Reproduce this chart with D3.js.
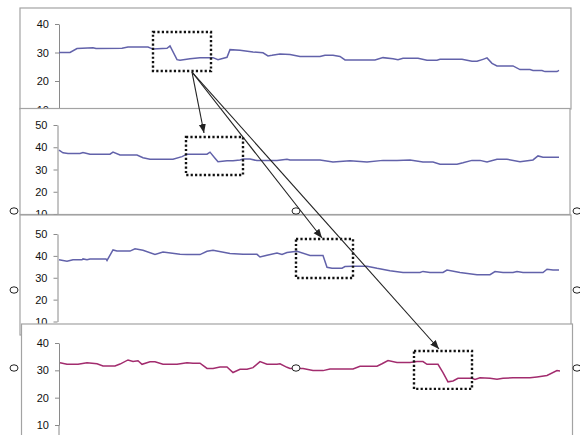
<!DOCTYPE html>
<html lang="en">
<head>
    <meta charset="UTF-8">
    <script src="https://d3js.org/d3.v7.min.js"></script>
    <title>Stacked traces</title>
    <style>
        body { margin: 0; background: #fff; }
    </style>
</head>
<body>
    <script>

        // each trace: [time step, value]
        var trace1 = [[0,30.0],[11,30.0],[18,31.4],[34,31.7],[37,31.4],[63,31.5],[69,31.9],[89,31.9],[94,31.2],[108,31.5],
            [111,32.3],[118,27.5],[121,27.3],[131,27.8],[141,28.2],[154,28.2],[159,27.5],[168,28.3],[171,31.0],[181,30.8],
            [194,30.2],[204,29.9],[209,28.8],[213,29.0],[221,29.5],[231,29.3],[241,28.6],[261,28.6],[266,29.0],[274,29.0],
            [281,28.6],[286,27.4],[316,27.4],[324,28.2],[334,27.8],[339,27.5],[344,28.0],[359,28.0],[368,27.3],[378,27.3],
            [381,27.6],[403,27.6],[413,26.9],[418,26.9],[424,27.6],[428,28.1],[433,26.2],[438,25.3],[454,25.3],[461,24.0],
            [471,24.0],[474,23.7],[483,23.7],[486,23.3],[498,23.3],[500,23.7]];

        var trace2 = [[0,38.7],[4,37.5],[9,37.2],[21,37.2],[24,37.6],[31,36.9],[51,36.9],[54,37.8],[61,36.5],[78,36.5],
            [84,35.3],[91,34.6],[114,34.6],[123,35.8],[128,36.9],[148,36.9],[151,37.8],[156,35.1],[159,33.5],[168,33.9],
            [174,33.9],[181,34.3],[184,34.7],[191,34.7],[198,34.0],[218,34.0],[228,34.6],[231,34.3],[261,34.3],[274,33.4],
            [291,33.9],[308,33.4],[324,34.1],[338,34.1],[351,34.3],[364,33.4],[374,33.4],[381,32.4],[398,32.4],[404,33.0],
            [413,34.1],[421,34.1],[428,33.4],[438,34.6],[448,34.6],[461,33.5],[474,34.3],[479,36.1],[484,35.5],[500,35.5]];

        var trace3 = [[0,38.2],[8,37.6],[14,38.2],[23,38.2],[24,38.6],[28,38.2],[31,38.6],[47,38.6],[48,37.9],[54,42.7],
            [58,42.2],[71,42.2],[76,43.2],[84,42.6],[96,40.7],[104,41.8],[121,40.7],[128,40.6],[141,40.6],[148,42.1],
            [154,42.6],[171,41.1],[184,40.7],[198,40.7],[201,39.5],[208,40.3],[218,41.3],[223,40.6],[228,41.5],[238,42.1],
            [251,40.2],[264,40.2],[268,34.8],[273,34.4],[283,34.4],[286,35.1],[294,35.3],[308,35.3],[318,34.3],[331,33.2],
            [344,32.4],[361,32.4],[364,32.9],[371,32.4],[384,32.4],[388,33.5],[401,32.4],[418,31.4],[431,31.4],[436,32.8],
            [444,32.4],[454,32.4],[458,32.8],[464,32.4],[484,32.4],[488,33.9],[494,33.5],[500,33.5]];

        var trace4 = [[1,32.8],[8,32.2],[19,32.2],[28,32.8],[38,32.4],[44,31.6],[56,31.6],[61,32.3],[69,33.8],[74,33.2],
            [79,33.5],[83,32.2],[91,33.1],[96,33.1],[104,32.2],[118,32.2],[128,32.8],[134,32.6],[141,32.6],[148,30.7],
            [154,30.7],[161,31.2],[168,31.2],[174,29.2],[181,30.4],[188,30.4],[194,31.0],[201,33.2],[208,32.2],[218,32.2],
            [221,32.4],[228,31.1],[231,30.7],[244,30.7],[254,29.9],[264,29.9],[271,30.5],[294,30.5],[301,31.5],[318,31.5],
            [323,32.4],[329,33.6],[338,32.9],[351,32.9],[358,33.2],[364,33.2],[368,32.2],[379,32.2],[384,29.2],[389,25.8],
            [394,26.1],[399,27.1],[413,27.1],[416,26.7],[421,27.3],[431,27.1],[438,26.7],[444,27.1],[454,27.3],[471,27.3],
            [478,27.6],[488,28.1],[498,29.9],[501,29.8]];

        var ticks1 = [10,20,30,40];
        var ticks2 = [10,20,30,40,50];
        var ticks3 = [10,20,30,40,50];
        var ticks4 = [10,20,30,40];

        // highlighted windows: [t0, t1, v top, v bottom] in each panel's units
        var window1 = [94, 152, 37.2, 23.5];
        var window2 = [127, 184, 44.6, 27.5];
        var window3 = [237, 294, 47.7, 29.9];
        var window4 = [355, 413, 37.1, 23.2];

        var W = 580, H = 435;
        var svg = d3.select("body").append("svg").attr("width", W).attr("height", H);

        var x = d3.scaleLinear().domain([0, 500]).range([59, 559]);

        var panels = [
            {data: trace1, ticks: ticks1, win: window1, dom: [10,40], rng: [109.5,24], fx: 20, fy: 8, fw: 551, fh: 101, ax: 59, color: "#6262aa"},
            {data: trace2, ticks: ticks2, win: window2, dom: [10,50], rng: [214,125], fx: 20, fy: 108.5, fw: 550, fh: 106, ax: 57.5, color: "#6262aa"},
            {data: trace3, ticks: ticks3, win: window3, dom: [10,50], rng: [321.5,234], fx: 20, fy: 215, fw: 551, fh: 120, ax: 57.5, color: "#6262aa"},
            {data: trace4, ticks: ticks4, win: window4, dom: [10,40], rng: [425,343], fx: 21.5, fy: 324, fw: 551, fh: 130, ax: 59, color: "#a22c6e"}
        ];

        panels.forEach(function(p) {
            p.y = d3.scaleLinear().domain(p.dom).range(p.rng);
            var g = svg.append("g");
            g.append("rect").attr("x", p.fx).attr("y", p.fy).attr("width", p.fw).attr("height", p.fh)
                .attr("fill", "#fff").attr("stroke", "#a3a3a3").attr("stroke-width", 1.2);

            var axis = d3.axisLeft(p.y).tickValues(p.ticks).tickSize(4).tickSizeOuter(0).tickPadding(6);
            var ag = g.append("g").attr("transform", "translate(" + p.ax + ",0)").call(axis);
            ag.select(".domain").attr("stroke", "#8a8a8a");
            ag.selectAll(".tick line").attr("stroke", "#8a8a8a");
            ag.selectAll("text").style("font-family", "Liberation Sans, Arial, sans-serif")
                .style("font-size", "11px").attr("fill", "#111");

            var line = d3.line().x(function(d){ return x(d[0]); }).y(function(d){ return p.y(d[1]); });
            g.append("path").datum(p.data).attr("d", line)
                .attr("fill", "none").attr("stroke", p.color).attr("stroke-width", 1.5);
        });

        // bottom panel axis runs off the page
        svg.append("line").attr("x1", 59).attr("x2", 59).attr("y1", 425).attr("y2", H)
            .attr("stroke", "#8a8a8a");

        // dotted windows
        panels.forEach(function(p) {
            var w = p.win;
            svg.append("rect")
                .attr("x", x(w[0])).attr("y", p.y(w[2]))
                .attr("width", x(w[1]) - x(w[0])).attr("height", p.y(w[3]) - p.y(w[2]))
                .attr("fill", "none").attr("stroke", "#111").attr("stroke-width", 2.4)
                .attr("stroke-dasharray", "2.2,2.2");
        });

        // arrows from the first window to the others
        svg.append("defs").append("marker").attr("id", "head")
            .attr("viewBox", "0 0 10 10").attr("refX", 10).attr("refY", 5)
            .attr("markerWidth", 9).attr("markerHeight", 9).attr("orient", "auto")
            .attr("markerUnits", "userSpaceOnUse")
            .append("path").attr("d", "M0,1 L10,5 L0,9 Z").attr("fill", "#222");

        var sx = x(133), sy = panels[0].y(window1[3]) + 1;
        [[204, 133], [322, 238], [439, 349]].forEach(function(t) {
            svg.append("line").attr("x1", sx).attr("y1", sy).attr("x2", t[0]).attr("y2", t[1])
                .attr("stroke", "#222").attr("stroke-width", 1.1).attr("marker-end", "url(#head)");
        });

        // selection handles
        var handles = [[14,211],[296,211],[577,211],[14,290],[577,290],[14,368],[296,368],[577,368]];
        svg.selectAll("ellipse.h").data(handles).join("ellipse").attr("class", "h")
            .attr("cx", function(d){ return d[0]; }).attr("cy", function(d){ return d[1]; })
            .attr("rx", 4).attr("ry", 3.2)
            .attr("fill", "#fff").attr("stroke", "#222").attr("stroke-width", 1);

    </script>
</body>
</html>
